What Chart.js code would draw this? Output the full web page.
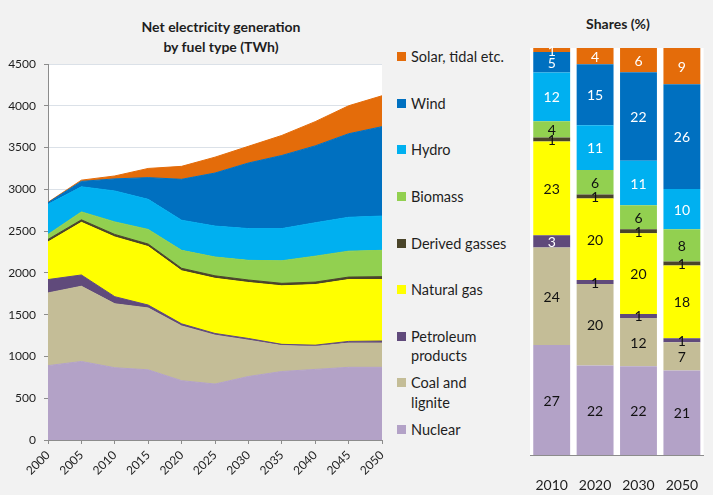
<!DOCTYPE html>
<html>
<head>
<meta charset="utf-8">
<script src="https://cdn.jsdelivr.net/npm/chart.js@4.4.1/dist/chart.umd.min.js"></script>
<style>
  html, body { margin: 0; padding: 0; background: #f2f2f2; }
  body { width: 713px; height: 495px; position: relative; overflow: hidden; font-family: Lato, sans-serif; color: #1e1e1e; }
  #area-wrap { position: absolute; left: 0; top: 0; }
  #share-wrap { position: absolute; left: 510px; top: 0; }
  .title { position: absolute; font-weight: bold; font-size: 14px; text-align: center; line-height: 20px; }
  #legend { position: absolute; left: 396px; top: 0; width: 125px; }
  .item { position: absolute; left: 0; display: flex; font-size: 14.5px; line-height: 19.5px; white-space: pre; }
  .box { width: 9px; height: 9px; margin: 5px 5px 0 1px; flex: none; }
</style>
</head>
<body>
<div class="title" style="left:121px; top:17px; width:200px;">Net electricity generation<br>by fuel type (TWh)</div>
<div class="title" style="left:568px; top:14px; width:100px;">Shares (%)</div>
<div id="area-wrap"><canvas id="area-chart" width="392" height="495"></canvas></div>
<div id="legend"></div>
<div id="share-wrap"><canvas id="share-chart" width="203" height="495"></canvas></div>
<script>
// Net generation, TWh (bottom of the stack first)
const years = ['2000', '2005', '2010', '2015', '2020', '2025', '2030', '2035', '2040', '2045', '2050'];
const nuclear    = [890, 940, 865, 840, 710, 670, 760, 820, 845, 870, 870];
const coal       = [870, 900, 765, 740, 655, 585, 435, 310, 275, 290, 290];
const petroleum  = [160, 135, 85, 35, 25, 20, 20, 15, 15, 20, 25];
const naturalGas = [450, 630, 715, 700, 635, 660, 670, 700, 725, 740, 735];
const derived    = [30, 30, 30, 30, 30, 30, 30, 30, 30, 30, 35];
const biomass    = [60, 95, 150, 175, 215, 225, 235, 270, 310, 310, 315];
const hydro      = [360, 300, 370, 360, 360, 370, 380, 385, 400, 405, 410];
const wind       = [20, 65, 145, 260, 490, 635, 785, 875, 920, 1000, 1070];
const solar      = [5, 15, 35, 110, 155, 190, 200, 240, 290, 335, 370];

// Shares, % (as printed on the bars)
const shareYears      = ['2010', '2020', '2030', '2050'];
const shareNuclear    = [27, 22, 22, 21];
const shareCoal       = [24, 20, 12, 7];
const sharePetroleum  = [3, 1, 1, 1];
const shareNaturalGas = [23, 20, 20, 18];
const shareDerived    = [1, 1, 1, 1];
const shareBiomass    = [4, 6, 6, 8];
const shareHydro      = [12, 11, 11, 10];
const shareWind       = [5, 15, 22, 26];
const shareSolar      = [1, 4, 6, 9];

const seriesNames = ['Nuclear', 'Coal and\nlignite', 'Petroleum\nproducts', 'Natural gas', 'Derived gasses',
                     'Biomass', 'Hydro', 'Wind', 'Solar, tidal etc.'];
const seriesColors = ['#b3a2c7', '#c4bd97', '#604a7b', '#ffff00', '#4a452a',
                      '#92d050', '#00b0f0', '#0070c0', '#e46c0a'];
// white numbers on the dark bars; petroleum only when the slice is big enough
const whiteLabel = [false, false, 'big', false, false, false, true, true, true];

const areaValues = [nuclear, coal, petroleum, naturalGas, derived, biomass, hydro, wind, solar];
const shareValues = [shareNuclear, shareCoal, sharePetroleum, shareNaturalGas, shareDerived,
                     shareBiomass, shareHydro, shareWind, shareSolar];

Chart.defaults.font.family = 'Lato, sans-serif';
Chart.defaults.color = '#1e1e1e';

const whitePlot = {
    id: 'whitePlot',
    beforeDraw(chart) {
        const a = chart.chartArea;
        chart.ctx.save();
        chart.ctx.fillStyle = '#ffffff';
        chart.ctx.fillRect(a.left, a.top, a.right - a.left, a.bottom - a.top);
        chart.ctx.restore();
    }
};

// Stacked area chart
new Chart(document.getElementById('area-chart'), {
    type: 'line',
    data: {
        labels: years,
        datasets: areaValues.map((vals, i) => ({
            label: seriesNames[i].replace('\n', ' '),
            data: vals,
            backgroundColor: seriesColors[i],
            borderColor: seriesColors[i],
            borderWidth: 1,
            pointRadius: 0,
            tension: 0,
            fill: i === 0 ? 'origin' : '-1'
        }))
    },
    options: {
        responsive: false,
        animation: false,
        layout: { padding: { top: 64, right: 10, left: 0, bottom: 0 } },
        plugins: { legend: { display: false }, tooltip: { enabled: false } },
        scales: {
            x: {
                afterFit(scale) {
                    scale.height = 55;
                    scale.paddingLeft = 0;
                    scale.paddingRight = 0;
                },
                border: { color: '#8c8c8c' },
                grid: { drawOnChartArea: false, tickLength: 4, tickColor: '#8c8c8c' },
                ticks: { autoSkip: false, minRotation: 45, maxRotation: 45, padding: 4, font: { size: 12 } }
            },
            y: {
                stacked: true,
                min: 0,
                max: 4500,
                afterFit(scale) { scale.width = 48; },
                border: { color: '#8c8c8c' },
                grid: { color: '#dbe1e8', tickLength: 4, tickColor: '#8c8c8c' },
                ticks: { stepSize: 500, padding: 8, font: { size: 12 }, callback: v => String(v) }
            }
        }
    },
    plugins: [whitePlot]
});

// Legend, top item = top of the stack
const legend = document.getElementById('legend');
for (let k = 0; k < seriesNames.length; k++) {
    const i = seriesNames.length - 1 - k;
    const item = document.createElement('div');
    item.className = 'item';
    item.style.top = (57 + k * 46.6 - 9.75) + 'px';
    const box = document.createElement('span');
    box.className = 'box';
    box.style.background = seriesColors[i];
    const txt = document.createElement('span');
    txt.textContent = seriesNames[i];
    item.appendChild(box);
    item.appendChild(txt);
    legend.appendChild(item);
}

// 100% stacked bars
const colTotals = shareYears.map((_, j) => shareValues.reduce((s, vals) => s + vals[j], 0));

const barLabels = {
    id: 'barLabels',
    afterDatasetsDraw(chart) {
        const ctx = chart.ctx;
        ctx.save();
        ctx.font = '14px Lato, sans-serif';
        ctx.textAlign = 'center';
        ctx.textBaseline = 'middle';
        chart.data.datasets.forEach((ds, i) => {
            chart.getDatasetMeta(i).data.forEach((bar, j) => {
                const v = shareValues[i][j];
                const w = whiteLabel[i] === true || (whiteLabel[i] === 'big' && v > 1);
                ctx.fillStyle = w ? '#ffffff' : '#111111';
                ctx.fillText(String(v), bar.x, (bar.y + bar.base) / 2 + 1);
            });
        });
        ctx.restore();
    }
};

new Chart(document.getElementById('share-chart'), {
    type: 'bar',
    data: {
        labels: shareYears,
        datasets: shareValues.map((vals, i) => ({
            label: seriesNames[i].replace('\n', ' '),
            data: vals.map((v, j) => v / colTotals[j] * 100),
            backgroundColor: seriesColors[i],
            borderWidth: 0,
            categoryPercentage: 1,
            barPercentage: 0.85
        }))
    },
    options: {
        responsive: false,
        animation: false,
        layout: { padding: { top: 48, right: 7, left: 20, bottom: 0 } },
        plugins: { legend: { display: false }, tooltip: { enabled: false } },
        scales: {
            x: {
                stacked: true,
                afterFit(scale) { scale.height = 40; },
                border: { display: true, color: '#8c8c8c' },
                grid: { display: false },
                ticks: { padding: 14, font: { size: 14 } }
            },
            y: { stacked: true, min: 0, max: 100, display: false }
        }
    },
    plugins: [whitePlot, barLabels]
});
</script>
</body>
</html>
